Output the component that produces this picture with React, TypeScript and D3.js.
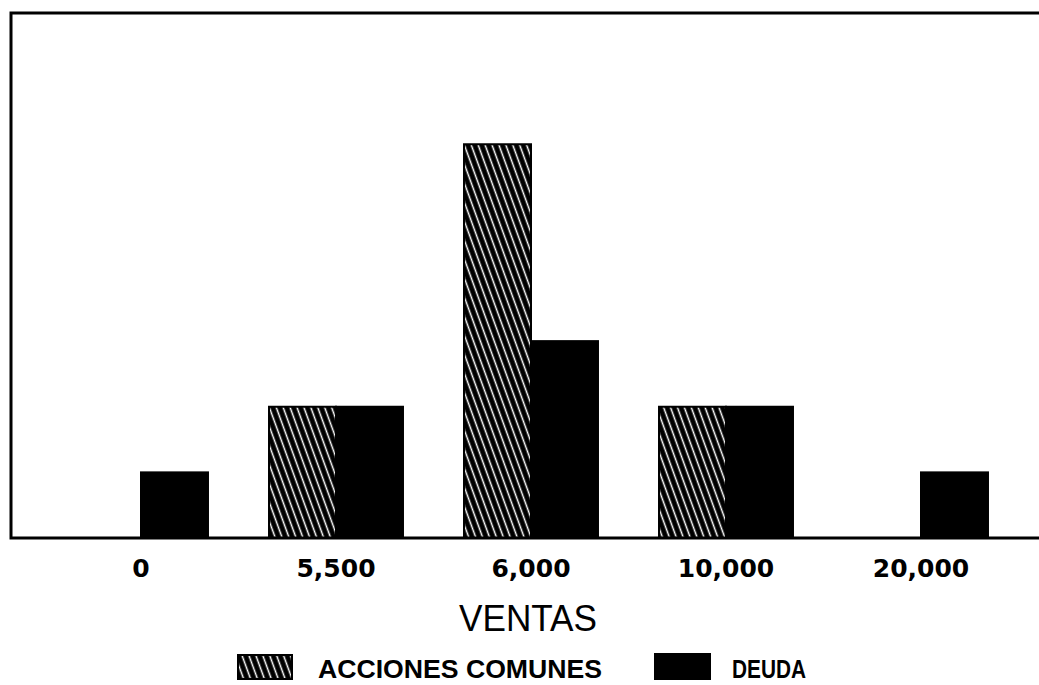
import React from "react";
import * as d3 from "d3";

const categories = ["0", "5,500", "6,000", "10,000", "20,000"];
const seriesNames = ["ACCIONES COMUNES", "DEUDA"];
const accionesValues = [0, 2, 6, 2, 0];
const deudaValues = [1, 2, 3, 2, 1];
const xAxisTitle = "VENTAS";

const W = 1039;
const H = 685;
const left = 11;
const top = 13;
const baseY = 538;

export default function App() {
  const x = d3
    .scaleBand<string>()
    .domain(categories)
    .range([43.5, 1018.5])
    .paddingInner(0.313)
    .paddingOuter(0.1565);
  const xs = d3
    .scaleBand<string>()
    .domain(seriesNames)
    .range([0, x.bandwidth()])
    .padding(0);
  const y = d3.scaleLinear().domain([0, 8]).range([baseY, top]);

  const series = [
    { name: seriesNames[0], values: accionesValues, fill: "url(#hatch)" },
    { name: seriesNames[1], values: deudaValues, fill: "#000" },
  ];

  return (
    <svg
      width={W}
      height={H}
      style={{ position: "absolute", left: 0, top: 0, background: "#fff" }}
    >
      <defs>
        <pattern
          id="hatch"
          patternUnits="userSpaceOnUse"
          width={6.5}
          height={20}
          patternTransform="rotate(-20)"
        >
          <rect x={0} y={0} width={6.5} height={20} fill="#000" />
          <line x1={3.25} y1={-1} x2={3.25} y2={21} stroke="#fff" strokeWidth={1.5} />
        </pattern>
      </defs>
      <rect x={0} y={0} width={W} height={H} fill="#fff" />

      {series.map((s) =>
        s.values.map((v, i) =>
          v > 0 ? (
            <rect
              key={s.name + i}
              x={(x(categories[i]) as number) + (xs(s.name) as number)}
              y={y(v)}
              width={xs.bandwidth()}
              height={baseY - y(v)}
              fill={s.fill}
              stroke="#000"
              strokeWidth={2}
            />
          ) : null
        )
      )}

      {/* frame */}
      <path
        d={`M${W + 2},${top} H${left} V${baseY} H${W + 2}`}
        fill="none"
        stroke="#000"
        strokeWidth={3}
      />

      {categories.map((c) => (
        <text
          key={c}
          x={(x(c) as number) + x.bandwidth() / 2}
          y={577}
          textAnchor="middle"
          fontFamily="DejaVu Sans"
          fontWeight="bold"
          fontSize={25}
          fill="#000"
        >
          {c}
        </text>
      ))}

      <text
        x={459}
        y={631}
        fontFamily="Liberation Sans Narrow, Liberation Sans, Arial"
        fontSize={37}
        textLength={138}
        lengthAdjust="spacingAndGlyphs"
        fill="#000"
      >
        {xAxisTitle}
      </text>

      {/* legend */}
      <rect x={238} y={655} width={54} height={24} fill="url(#hatch)" stroke="#000" strokeWidth={2} />
      <text
        x={318}
        y={678}
        fontFamily="Liberation Sans, Arial"
        fontWeight="bold"
        fontSize={26}
        textLength={284}
        lengthAdjust="spacingAndGlyphs"
        fill="#000"
      >
        {seriesNames[0]}
      </text>
      <rect x={655} y={654} width={55} height={25} fill="#000" stroke="#000" strokeWidth={2} />
      <text
        x={732}
        y={678}
        fontFamily="Liberation Sans, Arial"
        fontWeight="bold"
        fontSize={26}
        textLength={74}
        lengthAdjust="spacingAndGlyphs"
        fill="#000"
      >
        {seriesNames[1]}
      </text>
    </svg>
  );
}
